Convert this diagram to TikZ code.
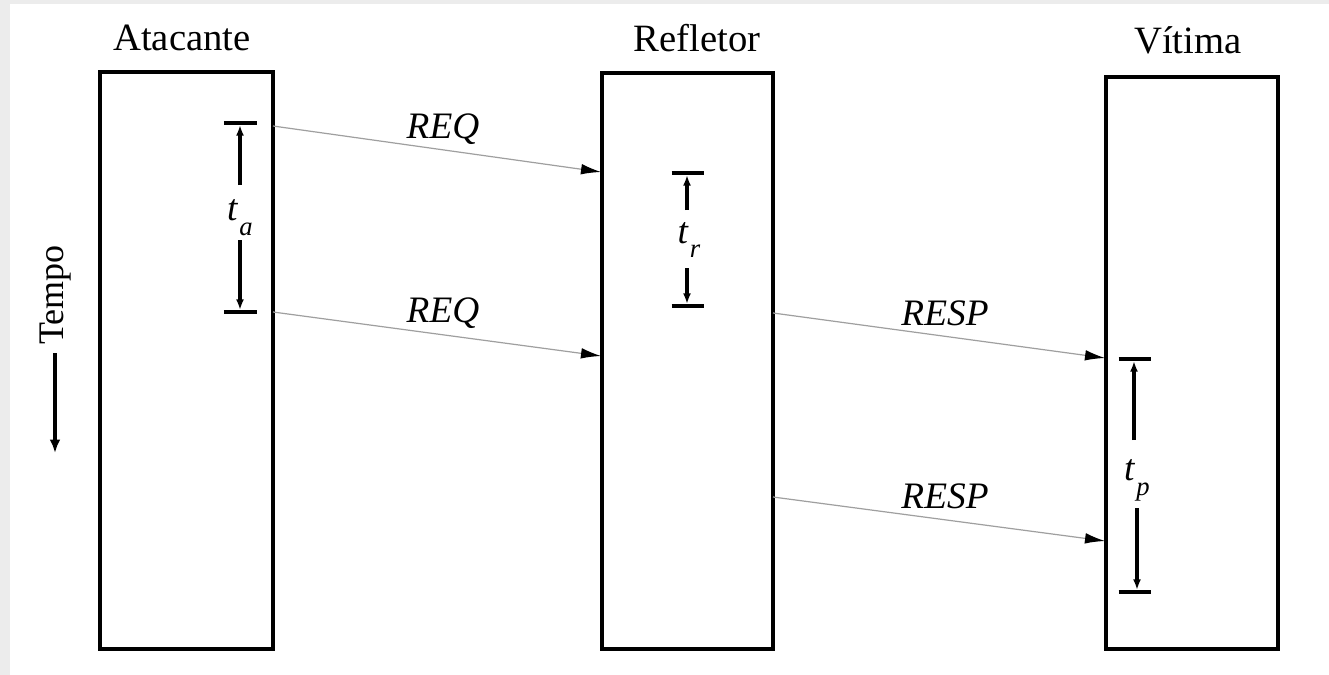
\documentclass[tikz,border=0pt]{standalone}
\usepackage{fontspec}
\setmainfont{Liberation Serif}
\usetikzlibrary{arrows.meta,fit}
\tikzset{
 lane/.style={draw, line width=2.5pt, inner sep=0pt},
 title/.style={font=\fontsize{29}{32}\selectfont},
 msg/.style={draw=gray!75, line width=0.9pt, -{Latex[length=15pt,width=8pt,black]}},
 msglabel/.style={font=\fontsize{28}{30}\selectfont\itshape},
 bar/.style={line width=2.5pt},
 span/.style={line width=2.4pt, -{Latex[length=8pt,width=6pt]}},
 tlabel/.style={font=\fontsize{28}{30}\selectfont\itshape, inner sep=0pt}
}
\newcommand{\tsub}[2]{#1\hspace{0.05em}\raisebox{-0.4em}{\fontsize{20}{20}\selectfont #2}}
\begin{document}
\begin{tikzpicture}[x=0.75pt,y=-0.75pt]
\fill[gray!15] (0,0) rectangle (1329,675);
\fill[white] (10,4) rectangle (1329,675);
\useasboundingbox (0,0) rectangle (1329,675);

% lanes
\node[lane, fit={(100,72)(273,649)}] (atk) {};
\node[lane, fit={(602,73)(773,649)}] (ref) {};
\node[lane, fit={(1106,77)(1278,649)}] (vit) {};

\node[title] (tatk) at (182,38) {Atacante};
\node[title] (tref) at (697,38) {Refletor};
\node[title] (tvit) at (1188,40) {Vítima};

% message end points
\coordinate (q1s) at (273,126);
\coordinate (q1e) at (601,172);
\coordinate (q2s) at (273,312);
\coordinate (q2e) at (601,356);
\coordinate (p1s) at (773,313);
\coordinate (p1e) at (1105,358);
\coordinate (p2s) at (773,497);
\coordinate (p2e) at (1105,541);

\draw[msg] (q1s) -- (q1e);
\draw[msg] (q2s) -- (q2e);
\draw[msg] (p1s) -- (p1e);
\draw[msg] (p2s) -- (p2e);

\node[msglabel] (lq1) at (443,129) {REQ};
\node[msglabel] (lq2) at (443,313) {REQ};
\node[msglabel] (lp1) at (945,313) {RESP};
\node[msglabel] (lp2) at (945,496) {RESP};

% t_a
\coordinate (ta1) at (240.5,123);
\coordinate (ta2) at (240.5,312);
\draw[bar] ([xshift=-12.4pt]ta1) -- ([xshift=12.4pt]ta1);
\draw[bar] ([xshift=-12.4pt]ta2) -- ([xshift=12.4pt]ta2);
\node[tlabel] (lta) at (240,218) {\tsub{t}{a}};
\coordinate (ta1a) at (240,185);
\coordinate (ta1b) at (240,125);
\coordinate (ta2a) at (240,240);
\coordinate (ta2b) at (240,310);
\draw[span] (ta1a) -- (ta1b);
\draw[span] (ta2a) -- (ta2b);

% t_r
\coordinate (tr1) at (687.5,173);
\coordinate (tr2) at (687.5,306);
\draw[bar] ([xshift=-12pt]tr1) -- ([xshift=12pt]tr1);
\draw[bar] ([xshift=-12pt]tr2) -- ([xshift=12pt]tr2);
\node[tlabel] (ltr) at (689,240) {\tsub{t}{r}};
\coordinate (tr1a) at (687,210);
\coordinate (tr1b) at (687,175);
\coordinate (tr2a) at (687,268);
\coordinate (tr2b) at (687,304);
\draw[span] (tr1a) -- (tr1b);
\draw[span] (tr2a) -- (tr2b);

% t_p
\coordinate (tp1) at (1134.5,359);
\coordinate (tp2) at (1134.5,592);
\draw[bar] ([xshift=-12pt]tp1) -- ([xshift=12pt]tp1);
\draw[bar] ([xshift=-12pt]tp2) -- ([xshift=12pt]tp2);
\node[tlabel] (ltp) at (1137,480) {\tsub{t}{p}};
\coordinate (tp1a) at (1134,440);
\coordinate (tp1b) at (1134,361);
\coordinate (tp2a) at (1137,508);
\coordinate (tp2b) at (1137,590);
\draw[span] (tp1a) -- (tp1b);
\draw[span] (tp2a) -- (tp2b);

% Tempo
\node[font=\fontsize{27}{30}\selectfont, rotate=90] (tempo) at (56,295) {Tempo};
\coordinate (tma) at (55,353);
\coordinate (tmb) at (55,453);
\draw[line width=2.5pt, -{Latex[length=10pt,width=8pt]}] (tma) -- (tmb);
\end{tikzpicture}
\end{document}
